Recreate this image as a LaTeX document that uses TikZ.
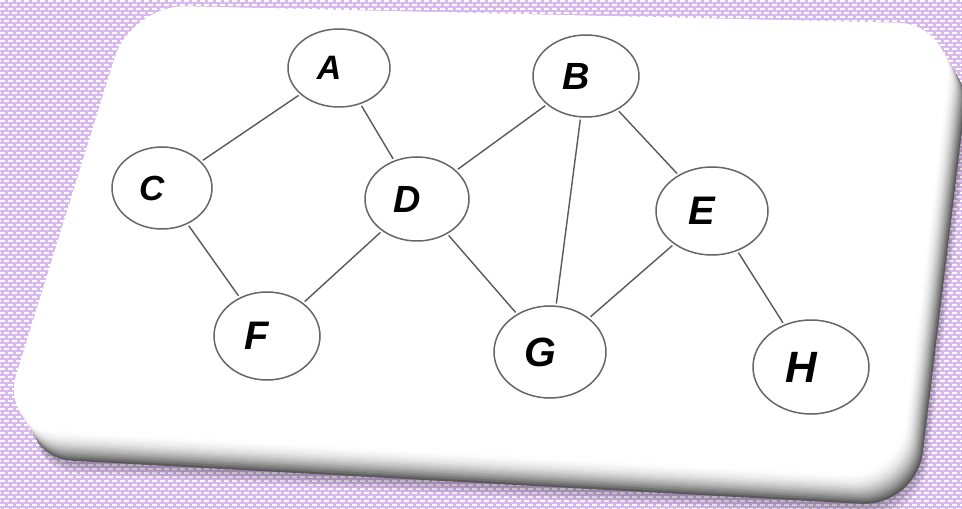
\documentclass[tikz,border=0pt]{standalone}
\usepackage{fontspec}
\setmainfont{Liberation Sans}
\usetikzlibrary{shapes.geometric}
\definecolor{lila}{RGB}{216,184,238}
\tikzset{
  vertex/.style={ellipse, draw=black!60, line width=1.5bp, fill=white, inner sep=0pt},
  lbl/.style={font=\bfseries\itshape\fontsize{#1}{#1}\selectfont, xshift=-10bp},
  link/.style={draw=black!65, line width=1.4bp, shorten >=2bp, shorten <=2bp}
}
\begin{document}
\begin{tikzpicture}[x=1bp,y=-1bp] %Grafo sobre la tarjeta
  \useasboundingbox (0,0) rectangle (962,509);
  \clip (0,0) rectangle (962,509);

  \fill[lila] (0,0) rectangle (962,509);
  \foreach \r [evaluate=\r as \ph using {4*mod(\r,2)}] in {0,...,127}
    \draw[white, line width=2bp, dash pattern=on 5bp off 3bp, dash phase=\ph bp] (0,\r*4+1) -- (962,\r*4+1);

  % sombra
  \foreach \s in {0,...,5}
    \fill[black, opacity=0.06, shift={(18+\s,31+2.5*\s)}, rounded corners=55bp]
      (131,5) -- (953,24) -- (898,476) -- (0,427) -- cycle;
  % canto
  \foreach \k [evaluate=\k as \c using {0.33*\k*\k}] in {14,...,1}
    \fill[black!\c!white, shift={(\k*1.3,\k*2.2)}, rounded corners=55bp]
      (131,5) -- (953,24) -- (898,476) -- (0,427) -- cycle;
  \fill[white, rounded corners=55bp] (131,5) -- (953,24) -- (898,476) -- (0,427) -- cycle;

  \node[vertex, minimum width=102bp, minimum height=78bp, label={[lbl=34]center:A}] (A) at (339,68) {};
  \node[vertex, minimum width=106bp, minimum height=82bp, label={[lbl=38]center:B}] (B) at (586,76) {};
  \node[vertex, minimum width=100bp, minimum height=82bp, label={[lbl=35]center:C}] (C) at (162,188) {};
  \node[vertex, minimum width=104bp, minimum height=84bp, label={[lbl=38]center:D}] (D) at (417,199) {};
  \node[vertex, minimum width=112bp, minimum height=88bp, label={[lbl=40]center:E}] (E) at (712,211) {};
  \node[vertex, minimum width=106bp, minimum height=88bp, label={[lbl=40]center:F}] (F) at (267,336) {};
  \node[vertex, minimum width=112bp, minimum height=92bp, label={[lbl=41]center:G}] (G) at (550,352) {};
  \node[vertex, minimum width=116bp, minimum height=94bp, label={[lbl=44]center:H}] (H) at (811,367) {};

  \draw[link] (A) -- (C);
  \draw[link] (A) -- (D);
  \draw[link] (C) -- (F);
  \draw[link] (D) -- (F);
  \draw[link] (D) -- (B);
  \draw[link] (D) -- (G);
  \draw[link] (B) -- (G);
  \draw[link] (B) -- (E);
  \draw[link] (E) -- (G);
  \draw[link] (E) -- (H);
\end{tikzpicture}
\end{document}
